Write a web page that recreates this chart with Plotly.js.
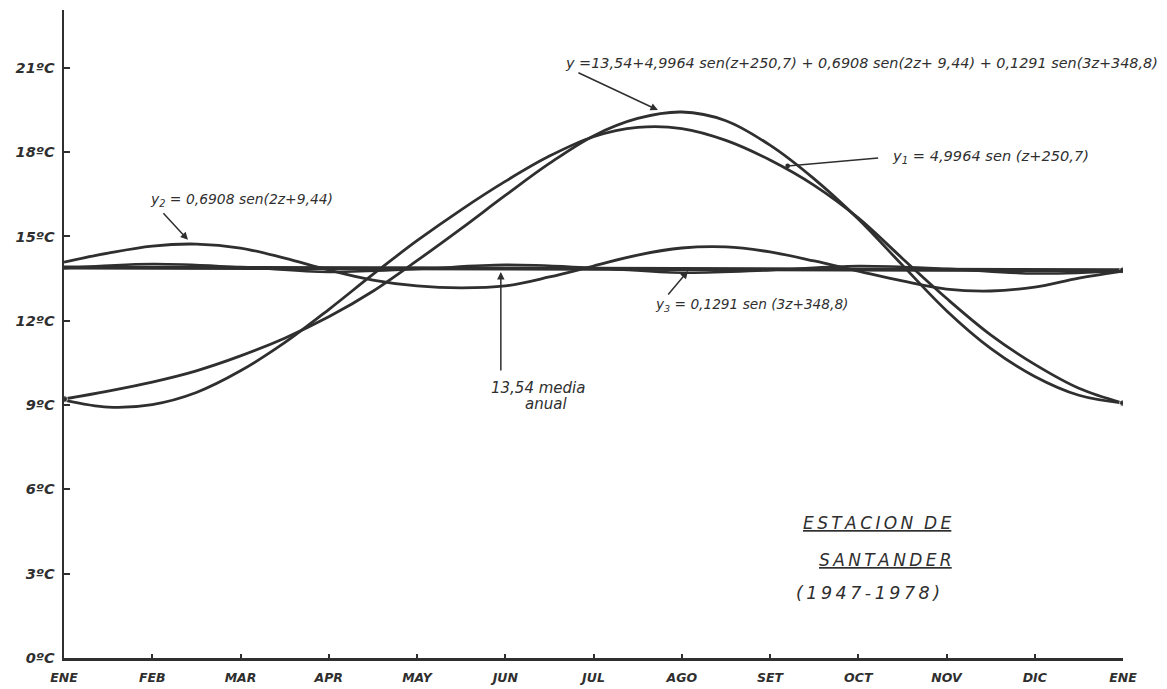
<!DOCTYPE html>
<html>
<head>
<meta charset="utf-8">
<script src="https://cdn.plot.ly/plotly-3.0.1.min.js"></script>
<style>
  html, body { margin: 0; padding: 0; background: #ffffff; }
  #chart { width: 1167px; height: 689px; }
</style>
</head>
<body>
<div id="chart"></div>
<script>
// ---- data ----
const monthLabels = ['ENE','FEB','MAR','APR','MAY','JUN','JUL','AGO','SET','OCT','NOV','DIC','ENE'];
const monthTicks = [0,1,2,3,4,5,6,7,8,9,10,11,12];

// half-month positions (0 = ENE, 12 = next ENE)
const xHalf = [0,0.5,1,1.5,2,2.5,3,3.5,4,4.5,5,5.5,6,6.5,7,7.5,8,8.5,9,9.5,10,10.5,11,11.5,12];

// total curve y = 13,54 + y1 + y2 + y3  (°C)
const yTotal = [9.22,9.50,9.82,10.22,10.75,11.38,12.14,13.05,14.14,15.28,16.46,17.60,18.58,19.20,19.43,19.12,18.25,17.05,15.62,13.98,12.36,11.02,10.02,9.35,9.07];

// first harmonic drawn about the annual mean (°C)
const yHarm1 = [9.18,8.93,9.02,9.45,10.22,11.22,12.40,13.65,14.85,15.95,16.96,17.86,18.55,18.88,18.84,18.42,17.72,16.82,15.66,14.22,12.80,11.50,10.45,9.60,9.07];

// second harmonic drawn about the annual mean (°C)
const yHarm2 = [14.09,14.41,14.66,14.73,14.59,14.23,13.81,13.45,13.24,13.17,13.24,13.56,13.95,14.34,14.59,14.63,14.45,14.13,13.77,13.42,13.13,13.06,13.20,13.52,13.77];

// third harmonic drawn about the annual mean (°C), monthly
const yHarm3 = [13.87,14.02,13.91,13.74,13.84,13.99,13.88,13.71,13.80,13.95,13.85,13.68,13.77];

// annual mean line
const xMean = [0,12];
const yMean = [13.90,13.80];

const yTickVals = [0,3,6,9,12,15,18,21];
const yTickText = ['0ºC','3ºC','6ºC','9ºC','12ºC','15ºC','18ºC','21ºC'];

// ---- drawing ----
const ink = '#2f2f2f';
const fam = 'DejaVu Sans, Liberation Sans, sans-serif';
const endDots = xHalf.map((v, i) => (i === 0 || i === xHalf.length - 1) ? 7 : 0);

const traces = [
  {x: xMean, y: yMean, mode: 'lines+markers', line: {color: ink, width: 4},
   marker: {color: ink, size: [0, 7]}, hoverinfo: 'skip'},
  {x: monthTicks, y: yHarm3, mode: 'lines', line: {color: ink, width: 2.5, shape: 'spline'}, hoverinfo: 'skip'},
  {x: xHalf, y: yHarm2, mode: 'lines', line: {color: ink, width: 2.8, shape: 'spline'}, hoverinfo: 'skip'},
  {x: xHalf, y: yHarm1, mode: 'lines', line: {color: ink, width: 2.8, shape: 'spline'}, hoverinfo: 'skip'},
  {x: xHalf, y: yTotal, mode: 'lines+markers', line: {color: ink, width: 2.8, shape: 'spline'},
   marker: {color: ink, size: endDots}, hoverinfo: 'skip'}
];

const txt = (size, extra) => Object.assign({family: fam, size: size, color: ink, style: 'italic'}, extra || {});
const sp = '\u2009';
const spaced = s => s.split('').join(sp);

const annotations = [
  // main equation
  {x: 5.65, y: 21.17, xanchor: 'left', yanchor: 'middle', showarrow: false,
   text: 'y =13,54+4,9964 sen(z+250,7) + 0,6908 sen(2z+ 9,44) + 0,1291 sen(3z+348,8)', font: txt(14.4)},
  {x: 6.73, y: 19.50, ax: -81, ay: -38, text: '', showarrow: true, arrowhead: 2, arrowsize: 1, arrowwidth: 1.5, arrowcolor: ink},
  // y1
  {x: 9.36, y: 17.83, xanchor: 'left', yanchor: 'middle', showarrow: false,
   text: 'y<sub>1</sub> = 4,9964 sen (z+250,7)', font: txt(14.6)},
  {x: 8.20, y: 17.51, ax: 92, ay: -8, text: '', showarrow: true, arrowhead: 6, arrowsize: 0.8, arrowwidth: 1.5, arrowcolor: ink},
  // y2
  {x: 0.95, y: 16.30, xanchor: 'left', yanchor: 'middle', showarrow: false,
   text: 'y<sub>2</sub> = 0,6908 sen(2z+9,44)', font: txt(13.9)},
  {x: 1.405, y: 14.88, ax: -26, ay: -28, text: '', showarrow: true, arrowhead: 2, arrowsize: 1, arrowwidth: 1.5, arrowcolor: ink},
  // y3
  {x: 6.67, y: 12.56, xanchor: 'left', yanchor: 'middle', showarrow: false,
   text: 'y<sub>3</sub> = 0,1291 sen (3z+348,8)', font: txt(13.7)},
  {x: 7.07, y: 13.77, ax: -21, ay: 25, text: '', showarrow: true, arrowhead: 2, arrowsize: 1, arrowwidth: 1.5, arrowcolor: ink},
  // media anual
  {x: 5.37, y: 9.61, xanchor: 'center', yanchor: 'middle', showarrow: false, text: '13,54 media', font: txt(15)},
  {x: 5.46, y: 9.03, xanchor: 'center', yanchor: 'middle', showarrow: false, text: 'anual', font: txt(15)},
  {x: 4.95, y: 13.74, ax: 0, ay: 100, text: '', showarrow: true, arrowhead: 2, arrowsize: 1, arrowwidth: 1.5, arrowcolor: ink},
  // station block
  {x: 9.22, y: 4.80, xanchor: 'center', yanchor: 'middle', showarrow: false,
   text: '<u>' + spaced('ESTACION') + '  ' + spaced('DE') + '</u>', font: txt(17)},
  {x: 9.31, y: 3.49, xanchor: 'center', yanchor: 'middle', showarrow: false,
   text: '<u>' + spaced('SANTANDER') + '</u>', font: txt(17)},
  {x: 9.11, y: 2.31, xanchor: 'center', yanchor: 'middle', showarrow: false,
   text: spaced('(1947-1978)'), font: txt(17.5)}
];

const layout = {
  width: 1167, height: 689,
  margin: {l: 64, r: 44, t: 10, b: 31, autoexpand: false},
  paper_bgcolor: '#ffffff', plot_bgcolor: '#ffffff',
  showlegend: false,
  xaxis: {
    range: [0, 12], tickvals: monthTicks, ticktext: monthLabels,
    showgrid: false, zeroline: false, showline: true, linecolor: ink, linewidth: 2.5,
    ticks: 'inside', ticklen: 4, tickwidth: 2, tickcolor: ink,
    tickfont: {family: fam, size: 12.5, color: ink, style: 'italic', weight: 'bold'},
    ticklabelstandoff: 6, fixedrange: true
  },
  yaxis: {
    range: [0, 23.06], tickvals: yTickVals, ticktext: yTickText,
    showgrid: false, zeroline: false, showline: true, linecolor: ink, linewidth: 2.5,
    ticks: 'inside', ticklen: 6, tickwidth: 2, tickcolor: ink,
    tickfont: {family: fam, size: 14.5, color: ink, style: 'italic', weight: 'bold'},
    ticklabelstandoff: 4, fixedrange: true
  },
  annotations: annotations
};

Plotly.newPlot('chart', traces, layout, {staticPlot: true, displayModeBar: false});
</script>
</body>
</html>
